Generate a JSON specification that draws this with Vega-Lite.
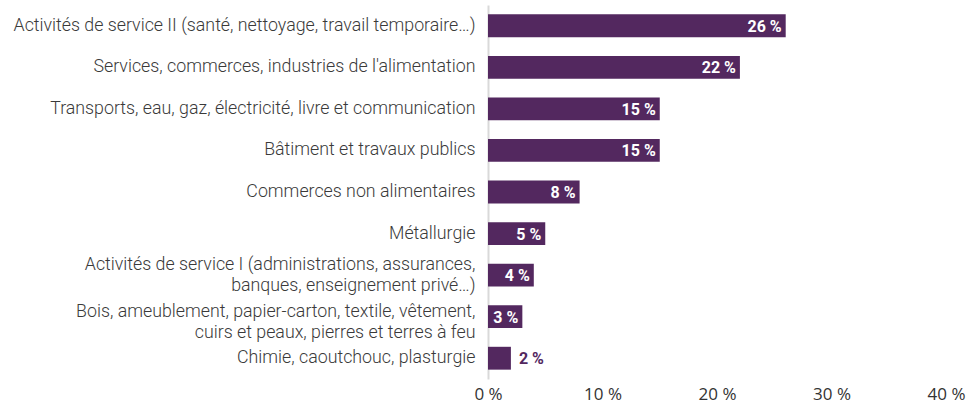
{
  "$schema": "https://vega.github.io/schema/vega-lite/v6.json",
  "autosize": {"type": "none"},
  "padding": {"left": 488, "top": 5, "right": 28, "bottom": 28},
  "width": 458,
  "height": 374,
  "background": "white",
  "config": {"view": {"stroke": null}},
  "data": {
    "values": [
      {"secteur": "Activités de service II (santé, nettoyage, travail temporaire…)", "part": 26, "label": "26 %"},
      {"secteur": "Services, commerces, industries de l'alimentation", "part": 22, "label": "22 %"},
      {"secteur": "Transports, eau, gaz, électricité, livre et communication", "part": 15, "label": "15 %"},
      {"secteur": "Bâtiment et travaux publics", "part": 15, "label": "15 %"},
      {"secteur": "Commerces non alimentaires", "part": 8, "label": "8 %"},
      {"secteur": "Métallurgie", "part": 5, "label": "5 %"},
      {"secteur": "Activités de service I (administrations, assurances,\nbanques, enseignement privé…)", "part": 4, "label": "4 %"},
      {"secteur": "Bois, ameublement, papier-carton, textile, vêtement,\ncuirs et peaux, pierres et terres à feu", "part": 3, "label": "3 %"},
      {"secteur": "Chimie, caoutchouc, plasturgie", "part": 2, "label": "2 %"}
    ]
  },
  "encoding": {
    "y": {
      "field": "secteur",
      "type": "nominal",
      "sort": null,
      "scale": {"paddingInner": 0.45, "paddingOuter": 0.225},
      "axis": {
        "title": null,
        "ticks": false,
        "domain": true,
        "domainColor": "#d9d9d9",
        "domainWidth": 2,
        "labelFont": "Roboto",
        "labelFontSize": 17.8,
        "labelFontWeight": 300,
        "labelColor": "#3a3a3a",
        "labelPadding": 13,
        "labelLimit": 500,
        "labelLineHeight": 21,
        "labelOffset": {"condition": [
          {"test": "datum.value == 'Activités de service I (administrations, assurances,\\nbanques, enseignement privé…)'", "value": -10},
          {"test": "datum.value == 'Bois, ameublement, papier-carton, textile, vêtement,\\ncuirs et peaux, pierres et terres à feu'", "value": -5}
        ], "value": 0},
        "labelExpr": "split(datum.value, '\\n')"
      }
    },
    "x": {
      "field": "part",
      "type": "quantitative",
      "scale": {"domain": [0, 40], "nice": false},
      "axis": {
        "title": null,
        "values": [0, 10, 20, 30, 40],
        "labelExpr": "datum.value + ' %'",
        "grid": false,
        "domain": false,
        "ticks": false,
        "labelFont": "Open Sans",
        "labelFontSize": 17,
        "labelColor": "#333333",
        "labelPadding": 7,
        "labelFlush": false
      }
    }
  },
  "layer": [
    {"mark": {"type": "bar", "color": "#53285f"}},
    {
      "transform": [{"filter": "datum.part >= 3"}],
      "mark": {"type": "text", "align": "right", "baseline": "middle", "dx": -4, "dy": 1, "font": "Roboto", "fontSize": 16, "fontWeight": "bold", "color": "white"},
      "encoding": {"text": {"field": "label"}}
    },
    {
      "transform": [{"filter": "datum.part < 3"}],
      "mark": {"type": "text", "align": "left", "baseline": "middle", "dx": 8, "dy": 1, "font": "Roboto", "fontSize": 16, "fontWeight": "bold", "color": "#53285f"},
      "encoding": {"text": {"field": "label"}}
    }
  ]
}
